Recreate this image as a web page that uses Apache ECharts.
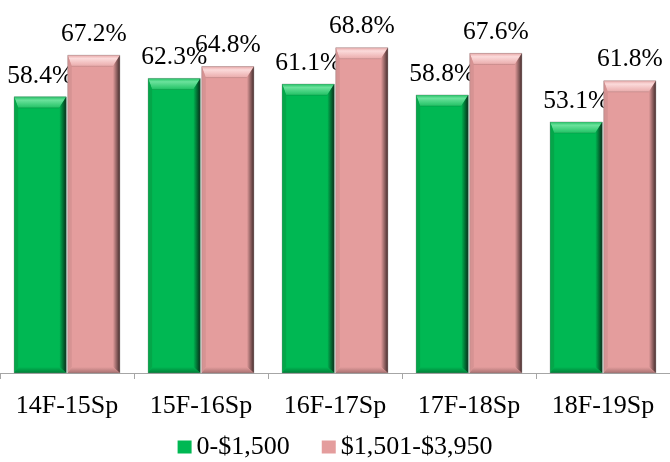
<!DOCTYPE html>
<html>
<head>
<meta charset="utf-8">
<script src="https://cdn.jsdelivr.net/npm/echarts@6/dist/echarts.min.js"></script>
<style>
html,body{margin:0;padding:0;background:#fff;}
#chart{width:670px;height:462px;}
</style>
</head>
<body>
<div id="chart"></div>
<script>
const categories = ['14F-15Sp', '15F-16Sp', '16F-17Sp', '17F-18Sp', '18F-19Sp'];
const seriesNames = ['0-$1,500', '$1,501-$3,950'];
const lowIncome = [58.4, 62.3, 61.1, 58.8, 53.1];
const midIncome = [67.2, 64.8, 68.8, 67.6, 61.8];

const palettes = [
  {front: '#00B853', top: '#22C265', topHi: '#6BE29C', left: '#04A649', right: '#052E18', bottom: '#007F37'},
  {front: '#E49D9D', top: '#EAABAB', topHi: '#FBDADA', left: '#D69393', right: '#452D2D', bottom: '#A97272'}
];

const FONT = '"Liberation Serif", "Times New Roman", serif';

function makeRender(sIdx) {
  return function (params, api) {
    const ci = api.value(0);
    const v = api.value(1);
    const topPt = api.coord([ci, v]);
    const basePt = api.coord([ci, 0]);
    const band = api.size([1, 0])[0];
    const bw = band * 0.389;
    const gap = 1.5;
    const cx = topPt[0] + (sIdx === 0 ? -(bw / 2 + gap / 2) : (bw / 2 + gap / 2));
    const x0 = cx - bw / 2, x1 = cx + bw / 2;
    const y0 = topPt[1], y1 = basePt[1];
    const p = palettes[sIdx];
    const t = 11, r = 7, l = 4, b = 6;
    const children = [
      {type: 'rect', shape: {x: x0, y: y0, width: bw, height: y1 - y0}, style: {fill: p.front}},
      {type: 'polygon', shape: {points: [[x0, y0], [x1, y0], [x1 - r, y0 + t], [x0 + l, y0 + t]]},
        style: {fill: new echarts.graphic.LinearGradient(0, 0, 0, 1, [
          {offset: 0, color: p.top}, {offset: 0.3, color: p.topHi}, {offset: 1, color: p.top}])}},
      {type: 'polygon', shape: {points: [[x0, y0], [x0 + l, y0 + t], [x0 + l, y1 - b], [x0, y1]]},
        style: {fill: p.left}},
      {type: 'polygon', shape: {points: [[x1, y0], [x1, y1], [x1 - r, y1 - b], [x1 - r, y0 + t]]},
        style: {fill: new echarts.graphic.LinearGradient(0, 0, 1, 0, [
          {offset: 0, color: p.front}, {offset: 1, color: p.right}])}},
      {type: 'polygon', shape: {points: [[x0, y1], [x0 + l, y1 - b], [x1 - r, y1 - b], [x1, y1]]},
        style: {fill: new echarts.graphic.LinearGradient(0, 0, 0, 1, [
          {offset: 0, color: p.front}, {offset: 1, color: p.bottom}])}},
      {type: 'polyline', shape: {points: [[x0 + l, y0 + t], [x1 - r, y0 + t]]},
        style: {stroke: 'rgba(0,0,0,0.12)', lineWidth: 1}},
      {type: 'rect', shape: {x: x0, y: y0, width: bw, height: y1 - y0},
        style: {fill: 'none', stroke: 'rgba(120,120,120,0.35)', lineWidth: 1}},
      {type: 'text', style: {text: v.toFixed(1) + '%', x: cx, y: y0 - 8, align: 'center', verticalAlign: 'bottom',
        font: '25.5px ' + FONT, fill: '#000'}}
    ];
    return {type: 'group', children: children};
  };
}

const chart = echarts.init(document.getElementById('chart'), null, {renderer: 'canvas'});
chart.setOption({
  animation: false,
  backgroundColor: '#fff',
  grid: {left: 0, right: -4, top: 42, bottom: 89, containLabel: false},
  legend: {
    data: seriesNames,
    top: 429,
    left: 'center',
    icon: 'rect',
    itemWidth: 14,
    itemHeight: 13,
    itemGap: 32,
    textStyle: {fontFamily: FONT, fontSize: 26, color: '#000'}
  },
  xAxis: {
    type: 'category',
    data: categories,
    axisLine: {show: true, lineStyle: {color: '#A6A6A6', width: 1}},
    axisTick: {show: true, length: 6, lineStyle: {color: '#A6A6A6'}},
    axisLabel: {fontFamily: FONT, fontSize: 26, color: '#000', margin: 20}
  },
  yAxis: {type: 'value', min: 0, max: 70, show: false, splitLine: {show: false}},
  series: [
    {name: seriesNames[0], type: 'custom', renderItem: makeRender(0),
      itemStyle: {color: palettes[0].front}, encode: {x: 0, y: 1},
      data: lowIncome.map((v, i) => [i, v])},
    {name: seriesNames[1], type: 'custom', renderItem: makeRender(1),
      itemStyle: {color: palettes[1].front}, encode: {x: 0, y: 1},
      data: midIncome.map((v, i) => [i, v])}
  ]
});
</script>
</body>
</html>
